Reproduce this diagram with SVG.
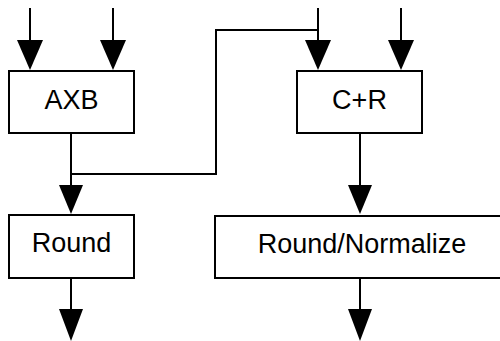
<svg xmlns="http://www.w3.org/2000/svg" width="500" height="341" viewBox="0 0 500 341">
  <defs>
    <style>
      .box { fill: #ffffff; stroke: #000000; stroke-width: 2; }
      .wire { fill: none; stroke: #000000; stroke-width: 2; }
      .head { fill: #000000; }
      .label { font-family: "Liberation Sans", Arial, sans-serif; font-size: 27px; fill: #000000; text-anchor: middle; }
    </style>
  </defs>
  <rect width="500" height="341" fill="#ffffff"/>

  <g id="connectors">
    <!-- inputs to AXB -->
    <path class="wire" d="M30,8 V40" />
    <path class="head" d="M17,40 H43 L30,70 Z" />
    <path class="wire" d="M113,8 V40" />
    <path class="head" d="M100,40 H126 L113,70 Z" />
    <!-- inputs to C+R -->
    <path class="wire" d="M318,8 V40" />
    <path class="head" d="M305,40 H331 L318,70 Z" />
    <path class="wire" d="M401,8 V40" />
    <path class="head" d="M388,40 H414 L401,70 Z" />
    <!-- AXB to Round, with branch up into C+R -->
    <path class="wire" d="M71,133 V185" />
    <path class="wire" d="M71,174 H216 V30 H318" />
    <path class="head" d="M59,185 H83 L71,214 Z" />
    <!-- C+R to Round/Normalize -->
    <path class="wire" d="M360,133 V185" />
    <path class="head" d="M348,185 H372 L360,214 Z" />
    <!-- outputs -->
    <path class="wire" d="M71,278 V310" />
    <path class="head" d="M59,309 H83 L71,341 Z" />
    <path class="wire" d="M360,278 V310" />
    <path class="head" d="M348,309 H372 L360,341 Z" />
  </g>

  <g id="axb">
    <rect class="box" x="9" y="71" width="125" height="62" />
    <text class="label" x="71.5" y="109">AXB</text>
  </g>
  <g id="cr">
    <rect class="box" x="297" y="71" width="125" height="62" />
    <text class="label" x="359.5" y="109">C+R</text>
  </g>
  <g id="round">
    <rect class="box" x="9" y="215" width="125" height="63" />
    <text class="label" x="71.5" y="252">Round</text>
  </g>
  <g id="round-normalize">
    <rect class="box" x="215" y="216" width="292" height="62" />
    <text class="label" x="362" y="253">Round/Normalize</text>
  </g>
</svg>
